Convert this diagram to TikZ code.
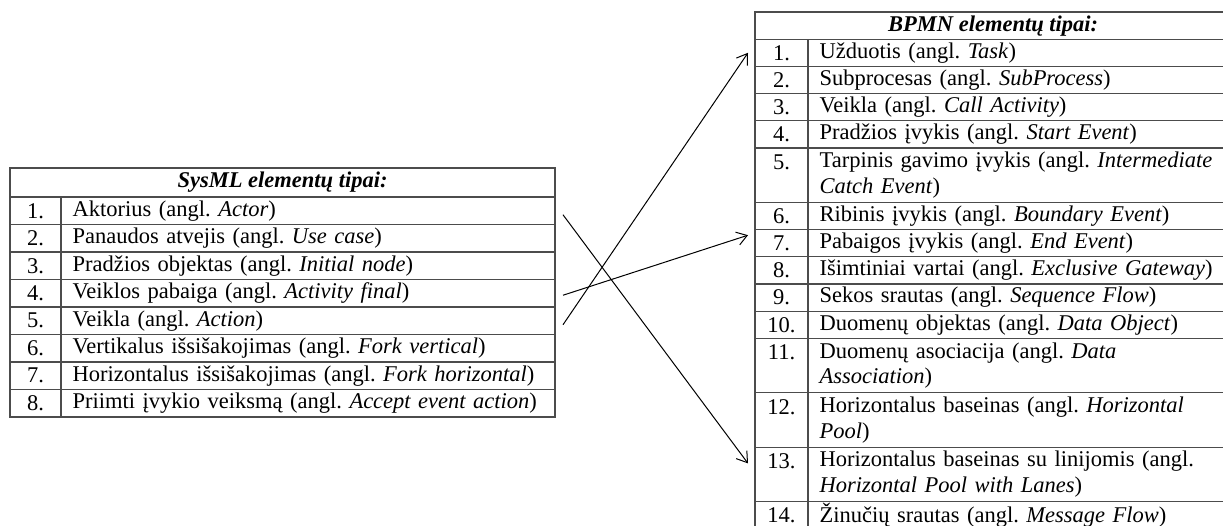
\documentclass[tikz,border=0pt]{standalone}
\usepackage{fontspec}
\setmainfont{Liberation Serif}
\usetikzlibrary{arrows.meta,calc,positioning}
\frenchspacing

\begin{document}
\begin{tikzpicture}[x=0.6pt, y=-0.6pt,
    every node/.style={font=\fontsize{13.5}{15.5}\selectfont, outer sep=0pt},
    tcell/.style={draw=black!70, line width=0.8pt, inner ysep=0pt, minimum height=16.32pt},
    dbl/.style={minimum height=32.64pt},
    head/.style={tcell, font=\fontsize{13.5}{15.5}\selectfont\bfseries\itshape},
    snum/.style={tcell, minimum height=16.5pt, minimum width=30.6pt, inner xsep=0pt},
    stxt/.style={tcell, minimum height=16.5pt, text width=282.4pt, inner xsep=7pt, align=left},
    bnum/.style={tcell, minimum width=31.8pt, inner xsep=0pt, align=center},
    btxt/.style={tcell, text width=240pt, inner xsep=7pt, align=left},
    arr/.style={-{Straight Barb[length=6pt,width=8pt]}, line width=0.6pt}]
    \useasboundingbox (0,0) rectangle (1223,526);

    % SysML table
    \node [head, minimum width=327pt, minimum height=17.4pt, anchor=north west] (sysHead) at (10,168) {SysML elementų tipai:};
    \node [snum, anchor=north west] (sn1) at (sysHead.south west) {1.};
    \node [stxt, right=0pt of sn1] (s1) {Aktorius (angl. \textit{Actor})};
    \node [snum, below=0pt of sn1] (sn2) {2.};
    \node [stxt, right=0pt of sn2] (s2) {Panaudos atvejis (angl. \textit{Use case})};
    \node [snum, below=0pt of sn2] (sn3) {3.};
    \node [stxt, right=0pt of sn3] (s3) {Pradžios objektas (angl. \textit{Initial node})};
    \node [snum, below=0pt of sn3] (sn4) {4.};
    \node [stxt, right=0pt of sn4] (s4) {Veiklos pabaiga (angl. \textit{Activity final})};
    \node [snum, below=0pt of sn4] (sn5) {5.};
    \node [stxt, right=0pt of sn5] (s5) {Veikla (angl. \textit{Action})};
    \node [snum, below=0pt of sn5] (sn6) {6.};
    \node [stxt, right=0pt of sn6] (s6) {Vertikalus išsišakojimas (angl. \textit{Fork vertical})};
    \node [snum, below=0pt of sn6] (sn7) {7.};
    \node [stxt, right=0pt of sn7] (s7) {Horizontalus išsišakojimas (angl. \textit{Fork horizontal})};
    \node [snum, below=0pt of sn7] (sn8) {8.};
    \node [stxt, right=0pt of sn8] (s8) {Priimti įvykio veiksmą (angl. \textit{Accept event action})};

    % BPMN table (two-line rows keep the number on the first line)
    \node [head, minimum width=285.8pt, anchor=north west] (bpmnHead) at (755,12) {BPMN elementų tipai:};
    \node [bnum, anchor=north west] (bn1) at (bpmnHead.south west) {1.};
    \node [btxt, right=0pt of bn1] (b1) {Užduotis (angl. \textit{Task})};
    \node [bnum, below=0pt of bn1] (bn2) {2.};
    \node [btxt, right=0pt of bn2] (b2) {Subprocesas (angl. \textit{SubProcess})};
    \node [bnum, below=0pt of bn2] (bn3) {3.};
    \node [btxt, right=0pt of bn3] (b3) {Veikla (angl. \textit{Call Activity})};
    \node [bnum, below=0pt of bn3] (bn4) {4.};
    \node [btxt, right=0pt of bn4] (b4) {Pradžios įvykis (angl. \textit{Start Event})};
    \node [bnum, dbl, below=0pt of bn4] (bn5) {5.\\\phantom{5.}};
    \node [btxt, dbl, right=0pt of bn5] (b5) {Tarpinis gavimo įvykis (angl. \textit{Intermediate}\\\textit{Catch Event})};
    \node [bnum, below=0pt of bn5] (bn6) {6.};
    \node [btxt, right=0pt of bn6] (b6) {Ribinis įvykis (angl. \textit{Boundary Event})};
    \node [bnum, below=0pt of bn6] (bn7) {7.};
    \node [btxt, right=0pt of bn7] (b7) {Pabaigos įvykis (angl. \textit{End Event})};
    \node [bnum, below=0pt of bn7] (bn8) {8.};
    \node [btxt, right=0pt of bn8] (b8) {Išimtiniai vartai (angl. \textit{Exclusive Gateway})};
    \node [bnum, below=0pt of bn8] (bn9) {9.};
    \node [btxt, right=0pt of bn9] (b9) {Sekos srautas (angl. \textit{Sequence Flow})};
    \node [bnum, below=0pt of bn9] (bn10) {10.};
    \node [btxt, right=0pt of bn10] (b10) {Duomenų objektas (angl. \textit{Data Object})};
    \node [bnum, dbl, below=0pt of bn10] (bn11) {11.\\\phantom{11.}};
    \node [btxt, dbl, right=0pt of bn11] (b11) {Duomenų asociacija (angl. \textit{Data}\\\textit{Association})};
    \node [bnum, dbl, below=0pt of bn11] (bn12) {12.\\\phantom{12.}};
    \node [btxt, dbl, right=0pt of bn12] (b12) {Horizontalus baseinas (angl. \textit{Horizontal}\\\textit{Pool})};
    \node [bnum, dbl, below=0pt of bn12] (bn13) {13.\\\phantom{13.}};
    \node [btxt, dbl, right=0pt of bn13] (b13) {Horizontalus baseinas su linijomis (angl.\\\textit{Horizontal Pool with Lanes})};
    \node [bnum, below=0pt of bn13] (bn14) {14.};
    \node [btxt, right=0pt of bn14] (b14) {Žinučių srautas (angl. \textit{Message Flow})};

    % mappings
    \draw [arr] ($(s1.east)+(8,4)$) -- ($(bn13.west)+(-7,-11)$);
    \draw [arr] ($(s4.east)+(8,2)$) -- ($(bn7.west)+(-7,-8)$);
    \draw [arr] ($(s5.east)+(8,4)$) -- ($(bn1.west)+(-7,0)$);
\end{tikzpicture}
\end{document}
